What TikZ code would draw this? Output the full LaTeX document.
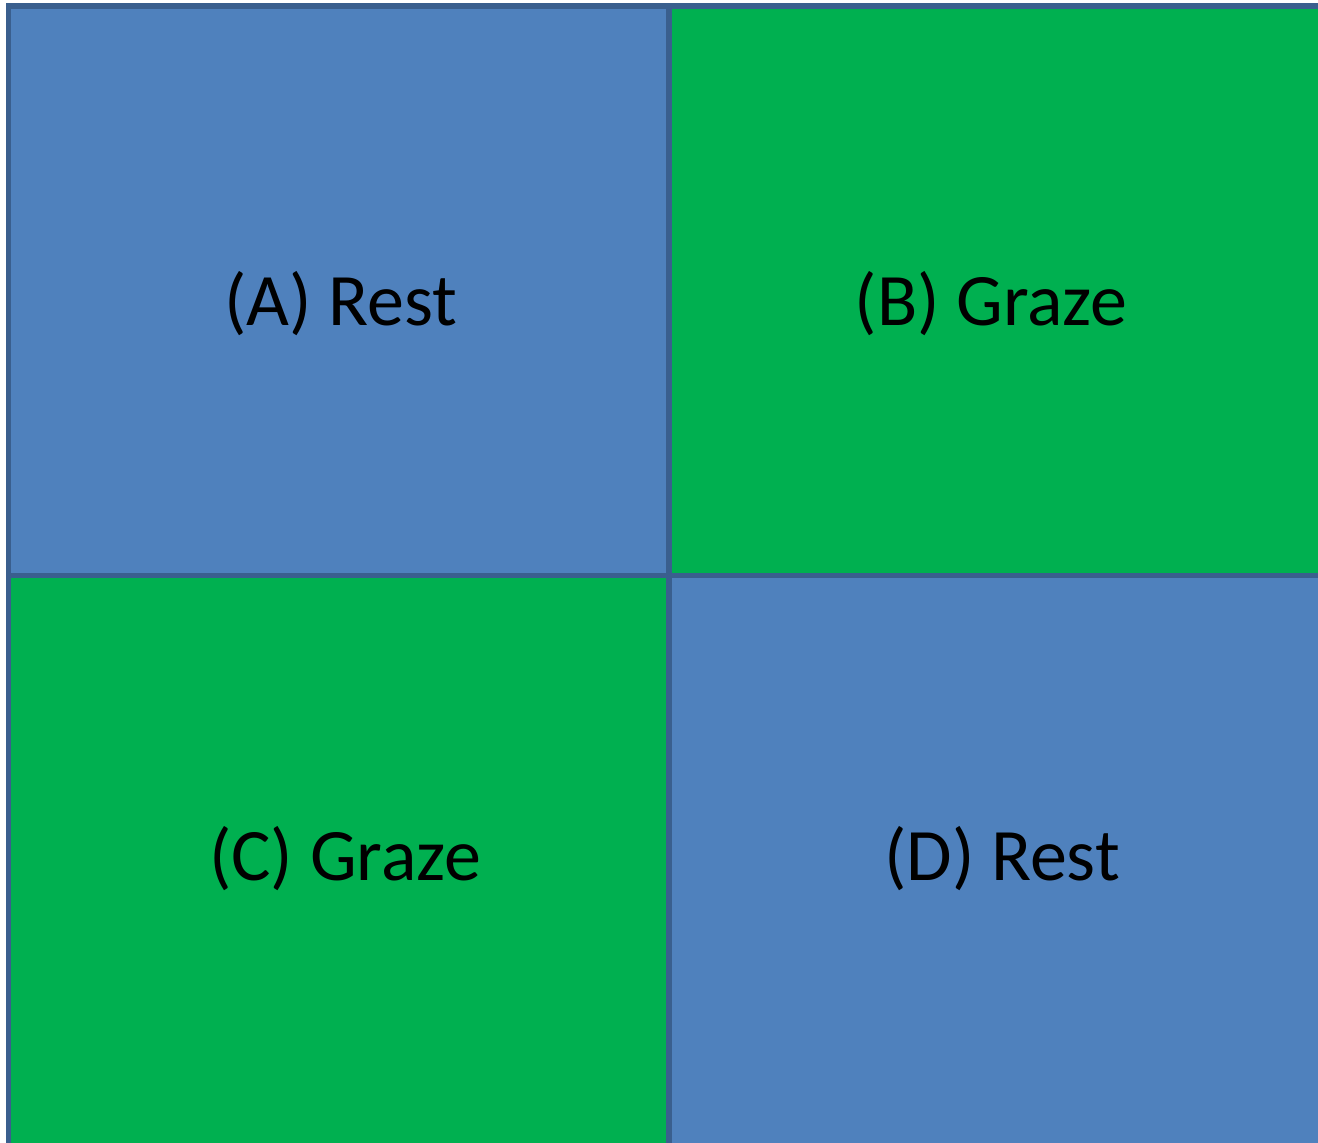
\documentclass[tikz,border=0pt]{standalone}
\usepackage{fontspec}
\setmainfont{Carlito}
\definecolor{cellblue}{HTML}{4F81BD}
\definecolor{cellgreen}{HTML}{00B050}
\definecolor{cellline}{HTML}{3A5F8E}
\begin{document}
\begin{tikzpicture}[x=1pt,y=-1pt,
  cell/.style={draw=cellline,line width=5.5pt},
  lab/.style={font=\fontsize{74}{86}\selectfont,text=black,inner sep=0pt}]
\useasboundingbox (0,0) rectangle (1318,1143);
\clip (0,0) rectangle (1318,1143);
\fill[white] (0,0) rectangle (1318,1143);
\path[cell,fill=cellblue] (8.5,6) rectangle (669,575.5);
\path[cell,fill=cellgreen] (669,6) rectangle (1330,575.5);
\path[cell,fill=cellgreen] (8.5,575.5) rectangle (669,1150);
\path[cell,fill=cellblue] (669,575.5) rectangle (1330,1150);
\node[lab] (a) at (341,304) {(A) Rest};
\node[lab] (b) at (991,304) {(B) Graze};
\node[lab] (c) at (345,859) {(C) Graze};
\node[lab] (d) at (1002,859) {(D) Rest};
\end{tikzpicture}
\end{document}
